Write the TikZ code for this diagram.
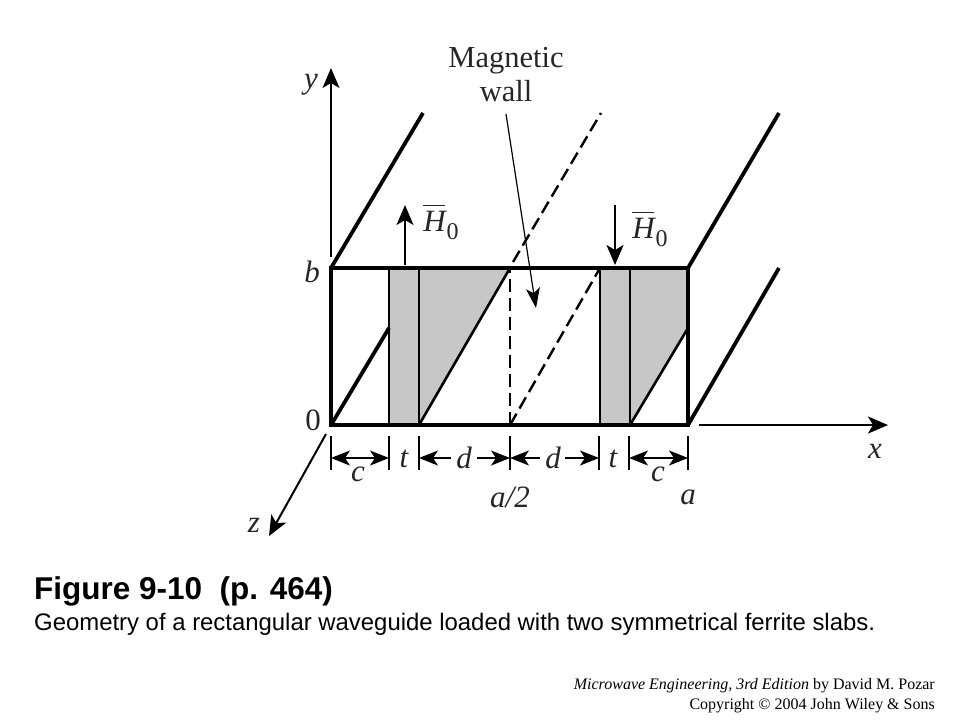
\documentclass[tikz,border=0pt]{standalone}
\usepackage{fontspec}
\setmainfont{Liberation Serif}
\newfontfamily\arialfont{Liberation Sans}
\usetikzlibrary{arrows.meta}
\newcommand{\hfield}{\rlap{\raisebox{25pt}{\rule{22pt}{1.6pt}}}H\hspace{1pt}\raisebox{-8pt}{\fontsize{24}{24}\selectfont\upshape 0}}
\tikzset{
  wall/.style={line width=3.8pt},
  slabline/.style={line width=2.6pt},
  axisline/.style={line width=2pt,-{Stealth[length=20pt,width=17pt,inset=5pt]}},
  dimline/.style={line width=1.4pt,-{Stealth[length=19pt,width=15pt,inset=5pt]}},
  dashline/.style={line width=2.4pt,dash pattern=on 13pt off 6pt},
  lab/.style={inner sep=0pt,text=black!85,font=\fontsize{31}{31}\selectfont\itshape},
}
\begin{document}
\begin{tikzpicture}[x=1pt,y=-1pt]
\useasboundingbox (0,0) rectangle (960,720);
% slabs
\fill[black!22] (389,268) -- (510,268) -- (419,425) -- (389,425) -- cycle;
\fill[black!22] (600,268) -- (688,268) -- (688,328) -- (630,425) -- (600,425) -- cycle;
\draw[slabline] (389,268) -- (389,425);
\draw[slabline] (419,268) -- (419,425);
\draw[slabline] (600,268) -- (600,425);
\draw[slabline] (630,268) -- (630,425);
\draw[slabline] (419,425) -- (510,268);
\draw[slabline] (630,425) -- (688,328);
% guide
\draw[wall] (331,268) rectangle (688,425);
\draw[wall] (331,268) -- (423,113);
\draw[wall] (688,268) -- (779,113);
\draw[wall] (331,425) -- (389,328);
\draw[wall] (688,425) -- (779,268);
% magnetic wall
\draw[dashline] (510,425) -- (510,268);
\draw[dashline] (510,425) -- (600,268);
\draw[dashline] (513,262) -- (601,113);
\node[inner sep=0pt,align=center,text=black!85,font=\fontsize{30.5}{34}\selectfont] (magwall) at (506,75) {Magnetic\\wall};
\coordinate (wallend) at (536,308);
\draw[line width=1.2pt,-{Stealth[length=20pt,width=14pt,inset=5pt]}] (506,114) -- (wallend);
% axes
\node[lab] (origin) at (313,420) {\upshape 0};
\coordinate (ytip) at (331,68);
\coordinate (xtip) at (888,425);
\coordinate (ztip) at (269,536);
\draw[axisline] (331,257) -- (ytip);
\draw[axisline] (699,425) -- (xtip);
\draw[axisline] (326,434) -- (ztip);
\node[lab] (ylab) at (311,85) {y};
\node[lab] (xlab) at (875,451) {x};
\node[lab] (zlab) at (254,525) {z};
\node[lab] (blab) at (312,272) {b};
% bias field
\draw[axisline] (405,265) -- (405,205);
\draw[axisline] (615,205) -- (615,265);
\node[lab] (hleft) at (441,222) {\hfield};
\node[lab] (hright) at (650,229) {\hfield};
% dimensions
\foreach \x in {331,389,419,510,599,629,688}
    \draw[line width=1.2pt] (\x,436) -- (\x,470);
\draw[dimline] (360,458) -- (331,458);
\draw[dimline] (360,458) -- (389,458);
\draw[dimline] (451,458) -- (419,458);
\draw[dimline] (477,458) -- (510,458);
\draw[dimline] (540,458) -- (510,458);
\draw[dimline] (565,458) -- (599,458);
\draw[dimline] (659,458) -- (629,458);
\draw[dimline] (659,458) -- (688,458);
\node[lab] (c1) at (358,474) {c};
\node[lab] (t1) at (404,459) {t};
\node[lab] (d1) at (464,458) {d};
\node[lab] (d2) at (553,458) {d};
\node[lab] (t2) at (613,459) {t};
\node[lab] (c2) at (658,474) {c};
\node[lab] (halfa) at (510,497) {a/2};
\node[lab] (alab) at (688,497) {a};
% caption
\node[right,inner sep=0pt,font=\arialfont\bfseries\fontsize{31.5}{32}\selectfont] (figno) at (34,591) {Figure 9-10\ \ (p. 464)};
\node[right,inner sep=0pt,font=\arialfont\fontsize{23.9}{24}\selectfont] (caption) at (34,624) {Geometry of a rectangular waveguide loaded with two symmetrical ferrite slabs.};
\node[left,inner sep=0pt,font=\fontsize{16}{16}\selectfont] (book) at (935,686) {\textit{Microwave Engineering, 3rd Edition} by David M. Pozar};
\node[left,inner sep=0pt,font=\fontsize{16}{16}\selectfont] (copyr) at (935,706) {Copyright © 2004 John Wiley \& Sons};
\end{tikzpicture}
\end{document}
